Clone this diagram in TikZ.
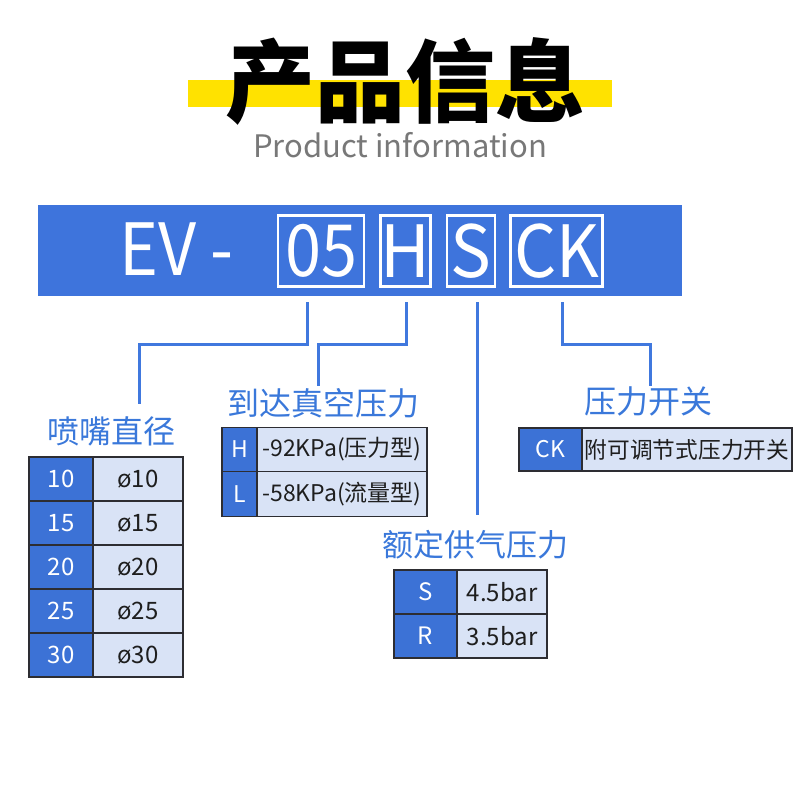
\documentclass[tikz,border=0pt]{standalone}
\usepackage{fontspec}
\setmainfont{Noto Sans CJK SC}
\definecolor{bannerblue}{RGB}{62,116,220}
\definecolor{cellblue}{RGB}{60,114,214}
\definecolor{celllight}{RGB}{217,227,246}
\definecolor{titleblue}{RGB}{58,120,218}
\definecolor{lineblue}{RGB}{64,120,222}
\definecolor{bordergrey}{RGB}{45,45,50}
\definecolor{textdark}{RGB}{30,30,30}
\definecolor{subgrey}{RGB}{120,120,120}
\definecolor{baryellow}{RGB}{255,226,0}
\tikzset{
  conn/.style={draw=lineblue, line width=3pt},
  codebox/.style={draw=white, line width=2.5pt, inner sep=0pt, minimum height=71pt, text=white, font=\fontsize{72}{72}\selectfont},
  lcell/.style={draw=bordergrey, line width=1.2pt, fill=cellblue, text=white, inner sep=0pt, font=\fontsize{24}{24}\selectfont},
  rcell/.style={draw=bordergrey, line width=1.2pt, fill=celllight, text=textdark, inner sep=0pt, font=\fontsize{24}{24}\selectfont},
  grouptitle/.style={text=titleblue, inner sep=0pt, font=\fontsize{32}{32}\selectfont},
}
\begin{document}
\begin{tikzpicture}[x=1pt,y=-1pt]
\useasboundingbox (0,0) rectangle (800,800);
% header
\fill[baryellow] (188,80) rectangle (612,107);
\node[inner sep=0pt, font=\fontsize{90}{90}\selectfont\bfseries] (title) at (405,81) {产品信息};
\node[inner sep=0pt, anchor=base, text=subgrey, font=\fontsize{31}{31}\selectfont] (sub) at (400,157) {Product information};
% banner
\fill[bannerblue] (38,205) rectangle (681.5,296);
\node[inner sep=0pt, anchor=base, text=white, font=\fontsize{72}{72}\selectfont] (ev) at (176.5,275) {\scalebox{0.92}[1]{EV -}};
\node[codebox, minimum width=86pt] (b05) at (321,251.2) {\scalebox{0.9}[1]{05}\hspace{6pt}};
\node[codebox, minimum width=49.3pt] (bH) at (405.4,251.2) {\scalebox{0.95}[1]{H}};
\node[codebox, minimum width=48.3pt] (bS) at (470.9,251.2) {\scalebox{0.95}[1]{S}};
\node[codebox, minimum width=92pt] (bCK) at (556.7,251.2) {\scalebox{0.92}[1]{CK}\hspace{3pt}};
% group titles
\node[grouptitle] (g1) at (111,431) {喷嘴直径};
\node[grouptitle] (g2) at (323,403) {到达真空压力};
\node[grouptitle, font=\fontsize{31}{31}\selectfont] (g3) at (475,545) {额定供气压力};
\node[grouptitle] (g4) at (648,401) {压力开关};
% connectors
\coordinate (s05) at (307,302);
\coordinate (e05) at (139,404);
\coordinate (sH) at (406.5,302);
\coordinate (eH) at (318,386);
\coordinate (sS) at (477.5,302);
\coordinate (eS) at (477.5,515);
\coordinate (sCK) at (562,302);
\coordinate (eCK) at (650,386);
\draw[conn] (s05) -- (s05 |- 0,344) -- (e05 |- 0,344) -- (e05);
\draw[conn] (sH) -- (sH |- 0,344) -- (eH |- 0,344) -- (eH);
\draw[conn] (sS) -- (eS);
\draw[conn] (sCK) -- (sCK |- 0,344) -- (eCK |- 0,344) -- (eCK);
% table 1
\node[lcell, minimum width=64pt, minimum height=44pt] (t1l1) at (61,479) {10};
\node[rcell, minimum width=90pt, minimum height=44pt] (t1r1) at (138,479) {ø10};
\node[lcell, minimum width=64pt, minimum height=44pt] (t1l2) at (61,523) {15};
\node[rcell, minimum width=90pt, minimum height=44pt] (t1r2) at (138,523) {ø15};
\node[lcell, minimum width=64pt, minimum height=44pt] (t1l3) at (61,567) {20};
\node[rcell, minimum width=90pt, minimum height=44pt] (t1r3) at (138,567) {ø20};
\node[lcell, minimum width=64pt, minimum height=44pt] (t1l4) at (61,611) {25};
\node[rcell, minimum width=90pt, minimum height=44pt] (t1r4) at (138,611) {ø25};
\node[lcell, minimum width=64pt, minimum height=44pt] (t1l5) at (61,655) {30};
\node[rcell, minimum width=90pt, minimum height=44pt] (t1r5) at (138,655) {ø30};
% table 2
\node[lcell, minimum width=35pt, minimum height=44.5pt, font=\fontsize{23}{23}\selectfont] (t2l1) at (239.5,449.5) {H};
\node[rcell, minimum width=170pt, minimum height=44.5pt, font=\fontsize{23}{23}\selectfont] (t2r1) at (342,449.5) {-92KPa(压力型)};
\node[lcell, minimum width=35pt, minimum height=44.5pt, font=\fontsize{23}{23}\selectfont] (t2l2) at (239.5,494) {L};
\node[rcell, minimum width=170pt, minimum height=44.5pt, font=\fontsize{23}{23}\selectfont] (t2r2) at (342,494) {-58KPa(流量型)};
% table 3
\node[lcell, minimum width=63pt, minimum height=44pt] (t3l1) at (425.5,592) {S};
\node[rcell, minimum width=90pt, minimum height=44pt] (t3r1) at (502,592) {4.5bar};
\node[lcell, minimum width=63pt, minimum height=44pt] (t3l2) at (425.5,636) {R};
\node[rcell, minimum width=90pt, minimum height=44pt] (t3r2) at (502,636) {3.5bar};
% table 4
\node[lcell, minimum width=63pt, minimum height=43pt, font=\fontsize{23}{23}\selectfont] (t4l1) at (550.5,449.5) {CK};
\node[rcell, minimum width=210pt, minimum height=43pt, font=\fontsize{22.7}{23}\selectfont] (t4r1) at (687,449.5) {附可调节式压力开关};
\end{tikzpicture}
\end{document}
